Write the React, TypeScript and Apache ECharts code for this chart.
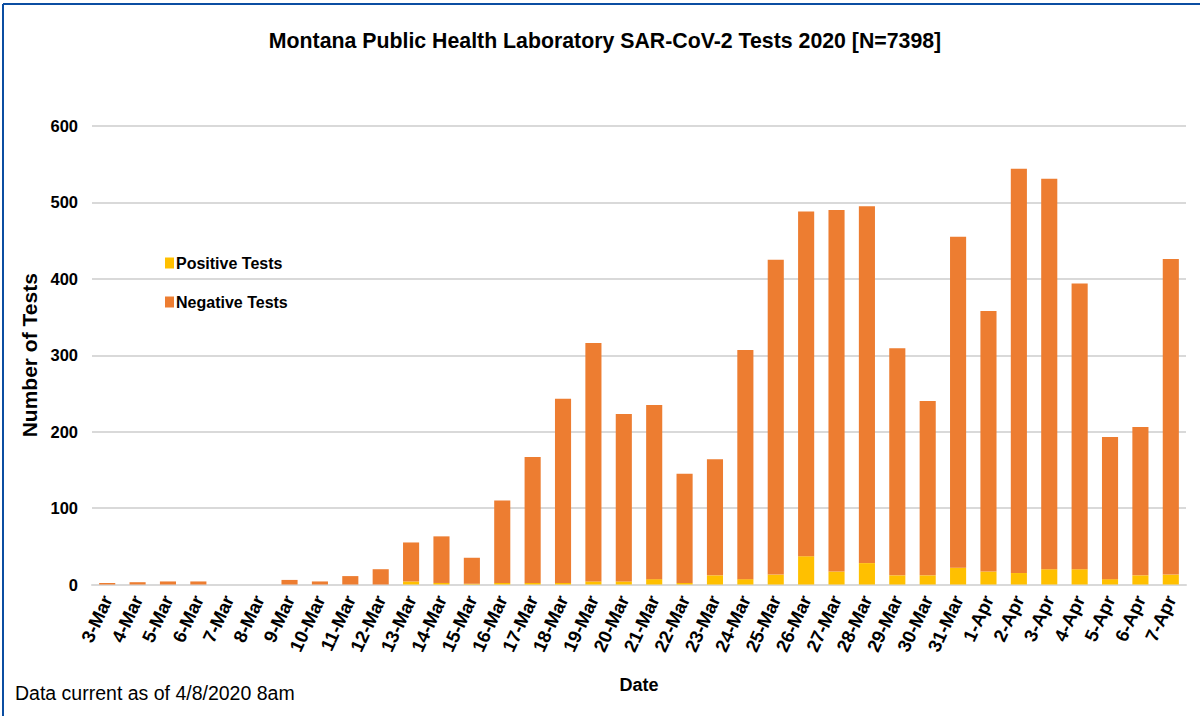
import React, { useEffect, useRef } from "react";
import * as echarts from "echarts";

const categories = [
  "3-Mar", "4-Mar", "5-Mar", "6-Mar", "7-Mar", "8-Mar", "9-Mar", "10-Mar", "11-Mar", "12-Mar",
  "13-Mar", "14-Mar", "15-Mar", "16-Mar", "17-Mar", "18-Mar", "19-Mar", "20-Mar", "21-Mar", "22-Mar",
  "23-Mar", "24-Mar", "25-Mar", "26-Mar", "27-Mar", "28-Mar", "29-Mar", "30-Mar", "31-Mar",
  "1-Apr", "2-Apr", "3-Apr", "4-Apr", "5-Apr", "6-Apr", "7-Apr",
];

const positiveTests = [
  0, 0, 0, 0, 0, 0, 0, 0, 0, 0,
  4, 2, 1, 2, 2, 2, 4, 4, 7, 2,
  12, 7, 13, 37, 17, 28, 12, 12, 22,
  17, 15, 20, 20, 7, 12, 13,
];

const negativeTests = [
  2, 3, 4, 4, 0, 0, 6, 4, 11, 20,
  51, 61, 34, 108, 165, 241, 312, 219, 228, 143,
  152, 300, 412, 451, 473, 467, 297, 228, 433,
  341, 529, 511, 374, 186, 194, 413,
];

const yTicks = { min: 0, max: 600, interval: 100 };

const FONT = "'Liberation Sans', Arial, sans-serif";

export default function App() {
  const ref = useRef<HTMLDivElement>(null);

  useEffect(() => {
    if (!ref.current) return;
    const chart = echarts.init(ref.current, null, { renderer: "svg" });
    chart.setOption({
      animation: false,
      backgroundColor: "#ffffff",
      textStyle: { fontFamily: FONT },
      title: {
        text: "Montana Public Health Laboratory SAR-CoV-2 Tests 2020 [N=7398]",
        left: 600,
        textAlign: "center",
        top: 25,
        textStyle: { fontFamily: FONT, fontSize: 21.3, fontWeight: "bold", color: "#000" },
      },
      legend: {
        orient: "vertical",
        left: 160,
        top: 250,
        itemGap: 23,
        itemWidth: 9,
        itemHeight: 11,
        icon: "rect",
        itemStyle: { borderWidth: 0 },
        textStyle: { fontFamily: FONT, fontSize: 16, fontWeight: "bold", color: "#000", padding: [0, 0, 0, -3] },
        data: ["Positive Tests", "Negative Tests"],
      },
      grid: { left: 92, right: 14, top: 126, bottom: 131.5, containLabel: false },
      xAxis: {
        type: "category",
        data: categories,
        name: "Date",
        nameLocation: "middle",
        nameGap: 91,
        nameTextStyle: { fontFamily: FONT, fontSize: 18, fontWeight: "bold", color: "#000" },
        axisTick: { show: false },
        axisLine: { show: true, lineStyle: { color: "#d9d9d9", width: 2 } },
        axisLabel: {
          rotate: 65,
          margin: 12,
          fontFamily: FONT,
          fontSize: 18.5,
          fontWeight: "bold",
          color: "#000",
          interval: 0,
        },
      },
      yAxis: {
        type: "value",
        min: yTicks.min,
        max: yTicks.max,
        interval: yTicks.interval,
        name: "Number of Tests",
        nameLocation: "middle",
        nameGap: 45,
        nameTextStyle: { fontFamily: FONT, fontSize: 21, fontWeight: "bold", color: "#000" },
        axisLine: { show: false },
        axisTick: { show: false },
        axisLabel: { margin: 14, fontFamily: FONT, fontSize: 16.5, fontWeight: "bold", color: "#000" },
        splitLine: { lineStyle: { color: "#d9d9d9", width: 2 } },
      },
      series: [
        {
          name: "Positive Tests",
          type: "bar",
          stack: "tests",
          data: positiveTests,
          barWidth: "53%",
          itemStyle: { color: "#FFC000" },
        },
        {
          name: "Negative Tests",
          type: "bar",
          stack: "tests",
          data: negativeTests,
          barWidth: "53%",
          itemStyle: { color: "#ED7D31" },
        },
      ],
      graphic: [
        {
          type: "line",
          shape: { x1: 3, y1: 4, x2: 1200, y2: 4 },
          style: { stroke: "#0b4ea2", lineWidth: 2 },
        },
        {
          type: "line",
          shape: { x1: 3, y1: 4, x2: 3, y2: 716 },
          style: { stroke: "#0b4ea2", lineWidth: 2 },
        },
        {
          type: "text",
          left: 15,
          top: 683,
          style: {
            text: "Data current as of 4/8/2020 8am",
            fontFamily: FONT,
            fontSize: 19.5,
            fill: "#000",
          },
        },
      ],
    });
    return () => chart.dispose();
  }, []);

  return (
    <div
      ref={ref}
      style={{ position: "fixed", left: 0, top: 0, width: 1200, height: 716 }}
    />
  );
}
